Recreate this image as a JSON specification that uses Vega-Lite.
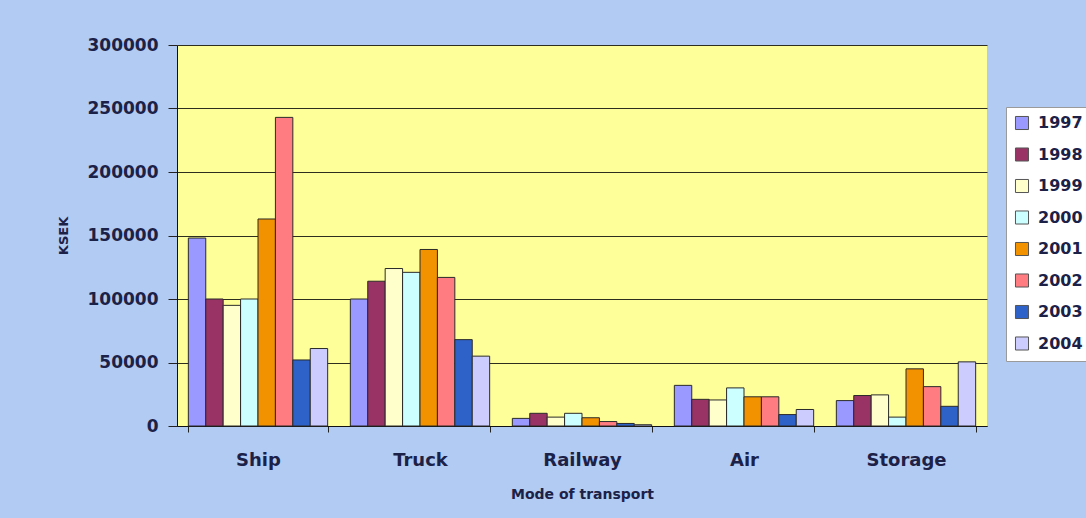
{
  "$schema": "https://vega.github.io/schema/vega-lite/v6.json",
  "width": 810,
  "height": 381,
  "autosize": "none",
  "padding": {"left": 177, "top": 45, "right": 99, "bottom": 92},
  "background": "#b2cbf2",
  "data": {
    "values": [
      {"mode": "Ship", "year": "1997", "value": 148000},
      {"mode": "Ship", "year": "1998", "value": 100000},
      {"mode": "Ship", "year": "1999", "value": 95000},
      {"mode": "Ship", "year": "2000", "value": 100000},
      {"mode": "Ship", "year": "2001", "value": 163000},
      {"mode": "Ship", "year": "2002", "value": 243000},
      {"mode": "Ship", "year": "2003", "value": 52000},
      {"mode": "Ship", "year": "2004", "value": 61000},
      {"mode": "Truck", "year": "1997", "value": 100000},
      {"mode": "Truck", "year": "1998", "value": 114000},
      {"mode": "Truck", "year": "1999", "value": 124000},
      {"mode": "Truck", "year": "2000", "value": 121000},
      {"mode": "Truck", "year": "2001", "value": 139000},
      {"mode": "Truck", "year": "2002", "value": 117000},
      {"mode": "Truck", "year": "2003", "value": 68000},
      {"mode": "Truck", "year": "2004", "value": 55000},
      {"mode": "Railway", "year": "1997", "value": 6000},
      {"mode": "Railway", "year": "1998", "value": 10000},
      {"mode": "Railway", "year": "1999", "value": 7000},
      {"mode": "Railway", "year": "2000", "value": 10000},
      {"mode": "Railway", "year": "2001", "value": 6500},
      {"mode": "Railway", "year": "2002", "value": 3500},
      {"mode": "Railway", "year": "2003", "value": 2000},
      {"mode": "Railway", "year": "2004", "value": 1000},
      {"mode": "Air", "year": "1997", "value": 32000},
      {"mode": "Air", "year": "1998", "value": 21000},
      {"mode": "Air", "year": "1999", "value": 20500},
      {"mode": "Air", "year": "2000", "value": 30000},
      {"mode": "Air", "year": "2001", "value": 23000},
      {"mode": "Air", "year": "2002", "value": 23000},
      {"mode": "Air", "year": "2003", "value": 9000},
      {"mode": "Air", "year": "2004", "value": 13000},
      {"mode": "Storage", "year": "1997", "value": 20000},
      {"mode": "Storage", "year": "1998", "value": 24000},
      {"mode": "Storage", "year": "1999", "value": 24500},
      {"mode": "Storage", "year": "2000", "value": 7000},
      {"mode": "Storage", "year": "2001", "value": 45000},
      {"mode": "Storage", "year": "2002", "value": 31000},
      {"mode": "Storage", "year": "2003", "value": 15500},
      {"mode": "Storage", "year": "2004", "value": 50500}
    ]
  },
  "mark": {"type": "bar", "stroke": "#2a2a2a", "strokeWidth": 1},
  "encoding": {
    "x": {
      "field": "mode",
      "type": "nominal",
      "sort": ["Ship", "Truck", "Railway", "Air", "Storage"],
      "scale": {"paddingInner": 0.14, "paddingOuter": 0.07},
      "axis": {
        "title": "Mode of transport",
        "labelAngle": 0,
        "labelFont": "DejaVu Sans",
        "labelFontWeight": "bold",
        "labelFontSize": 18,
        "labelColor": "#1c2147",
        "labelPadding": 19,
        "tickBand": "extent",
        "tickSize": 6,
        "tickColor": "#222",
        "domainColor": "#111",
        "titleFont": "DejaVu Sans",
        "titleFontWeight": "bold",
        "titleFontSize": 14,
        "titleColor": "#1c2147",
        "titlePadding": 18
      }
    },
    "xOffset": {"field": "year", "type": "nominal", "scale": {"paddingInner": 0}},
    "y": {
      "field": "value",
      "type": "quantitative",
      "scale": {"domain": [0, 300000], "nice": false},
      "axis": {
        "title": "KSEK",
        "values": [0, 50000, 100000, 150000, 200000, 250000, 300000],
        "format": "d",
        "grid": true,
        "gridColor": "#2e2e1e",
        "gridWidth": 1,
        "labelFont": "DejaVu Sans",
        "labelFontWeight": "bold",
        "labelFontSize": 17,
        "labelColor": "#1c2147",
        "labelPadding": 10,
        "tickSize": 9,
        "tickColor": "#222",
        "domainColor": "#111",
        "titleFont": "DejaVu Sans",
        "titleFontWeight": "bold",
        "titleFontSize": 13,
        "titleColor": "#1c2147",
        "titlePadding": 17
      }
    },
    "fill": {
      "field": "year",
      "type": "nominal",
      "scale": {
        "domain": ["1997", "1998", "1999", "2000", "2001", "2002", "2003", "2004"],
        "range": ["#9999ff", "#993366", "#ffffcc", "#ccffff", "#f39200", "#ff7c80", "#2f62c8", "#ccccff"]
      },
      "legend": {
        "title": null,
        "orient": "none",
        "legendX": 829,
        "legendY": 62,
        "fillColor": "#ffffff",
        "strokeColor": "#9a9a9a",
        "padding": 8,
        "rowPadding": 13.5,
        "symbolType": "square",
        "symbolSize": 170,
        "symbolStrokeColor": "#555",
        "symbolStrokeWidth": 1,
        "labelFont": "DejaVu Sans",
        "labelFontWeight": "bold",
        "labelFontSize": 16,
        "labelColor": "#1c2147",
        "labelOffset": 8
      }
    }
  },
  "config": {
    "view": {"fill": "#ffff99", "stroke": null}
  }
}
